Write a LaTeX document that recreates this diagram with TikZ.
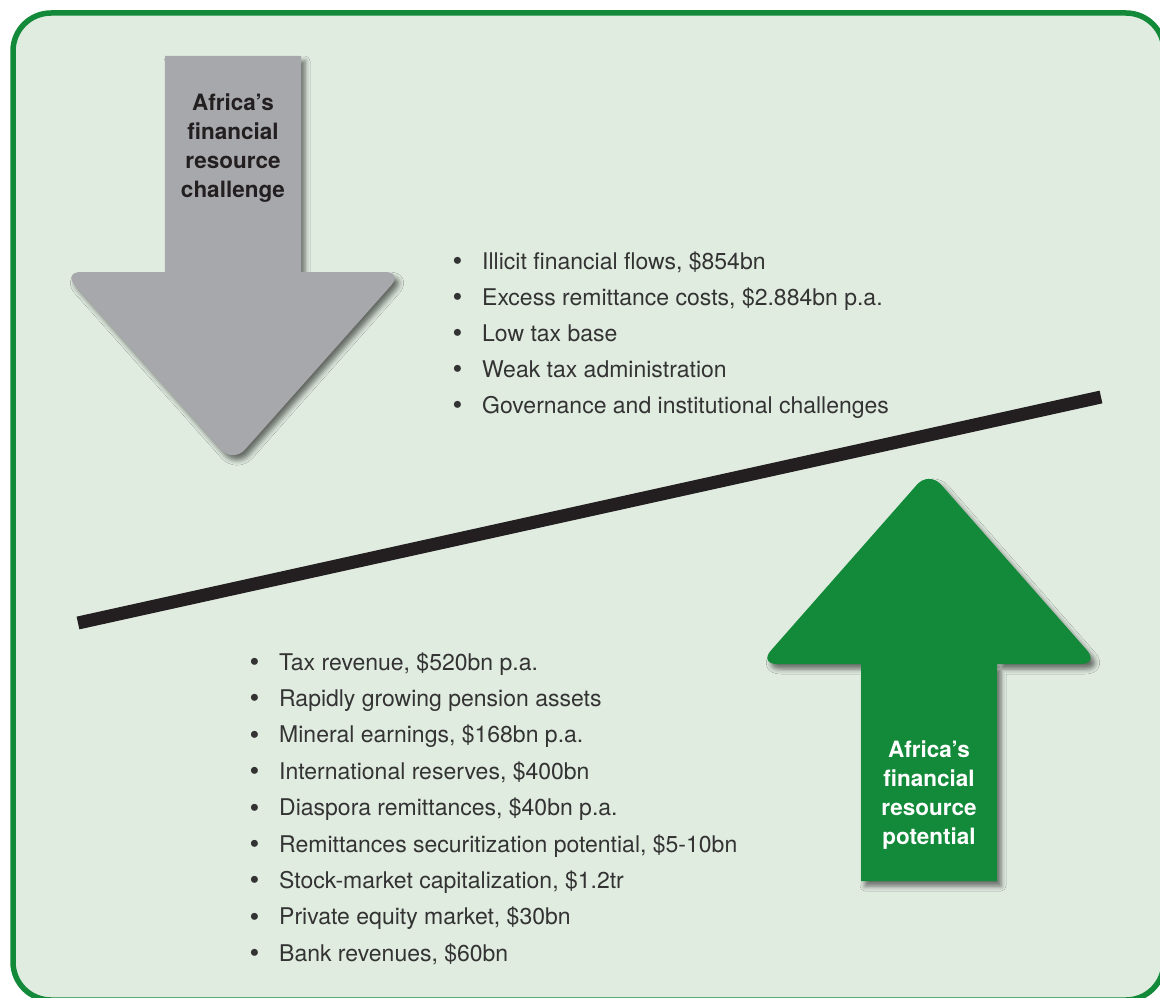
\documentclass[tikz,border=0pt]{standalone}
\usepackage{fontspec}
\setmainfont{TeX Gyre Heros}
\usetikzlibrary{shadows.blur}
\definecolor{bg}{HTML}{E1ECE1}
\definecolor{frgreen}{HTML}{138A3A}
\definecolor{arrgray}{HTML}{A7A8AB}
\definecolor{ink}{HTML}{231F20}
\definecolor{txt}{HTML}{333333}
\tikzset{
  frame/.style={draw=frgreen, line width=5.5pt, fill=bg, rounded corners=38pt},
  arrowshape/.style={blur shadow={shadow xshift=4pt, shadow yshift=-5pt, shadow blur radius=5pt, shadow opacity=55}},
  label/.style={inner sep=0pt, align=center, font=\fontsize{22.5}{29}\selectfont\bfseries},
  item/.style={inner sep=0pt, anchor=base west, text=txt, font=\fontsize{23}{27}\selectfont},
  divider/.style={draw=ink, line width=13pt}
}
\newcommand{\bul}{\makebox[29pt][l]{\hspace*{-0.5pt}{\fontsize{28}{25}\selectfont\raisebox{-1.5pt}{\textbullet}}}}
\begin{document}
\begin{tikzpicture}[x=1pt,y=-1pt]
\useasboundingbox (0,0) rectangle (1160,998);
\fill[white] (0,0) rectangle (1160,998);
\path[frame] (13,13) rectangle (1164,1000);

% grey arrow (down)
\path[fill=arrgray, arrowshape]
  (165,56) -- (165,276) -- (301,276) -- (301,56) -- cycle
  [rounded corners=18pt] (233,272) -- (63,272) -- (233,463) -- (403,272) -- cycle;
% green arrow (up)
\path[fill=frgreen, arrowshape]
  (861,660) -- (861,881) -- (997,881) -- (997,660) -- cycle
  [rounded corners=18pt] (929,664) -- (1099,664) -- (929,471) -- (759,664) -- cycle;

\node[label, text=ink, anchor=north] (chal) at (233,93.5) {Africa’s\\financial\\resource\\challenge};
\node[label, text=white, anchor=north] (pot) at (929,740.5) {Africa’s\\financial\\resource\\potential};

% divider
\coordinate (dl) at (78,623);
\coordinate (dr) at (1101,397);
\draw[divider] (dl) -- (dr);

% challenges
\node[item] (c1) at (453,269) {\bul Illicit financial flows, \$854bn};
\node[item] (c2) at (453,305) {\bul Excess remittance costs, \$2.884bn p.a.};
\node[item] (c3) at (453,341) {\bul Low tax base};
\node[item] (c4) at (453,377) {\bul Weak tax administration};
\node[item] (c5) at (453,413) {\bul Governance and institutional challenges};

% potential
\node[item] (p1) at (250,670) {\bul Tax revenue, \$520bn p.a.};
\node[item] (p2) at (250,706.4) {\bul Rapidly growing pension assets};
\node[item] (p3) at (250,742.8) {\bul Mineral earnings, \$168bn p.a.};
\node[item] (p4) at (250,779.2) {\bul International reserves, \$400bn};
\node[item] (p5) at (250,815.6) {\bul Diaspora remittances, \$40bn p.a.};
\node[item] (p6) at (250,852) {\bul Remittances securitization potential, \$5-10bn};
\node[item] (p7) at (250,888.4) {\bul Stock-market capitalization, \$1.2tr};
\node[item] (p8) at (250,924.8) {\bul Private equity market, \$30bn};
\node[item] (p9) at (250,961.2) {\bul Bank revenues, \$60bn};
\end{tikzpicture}
\end{document}
